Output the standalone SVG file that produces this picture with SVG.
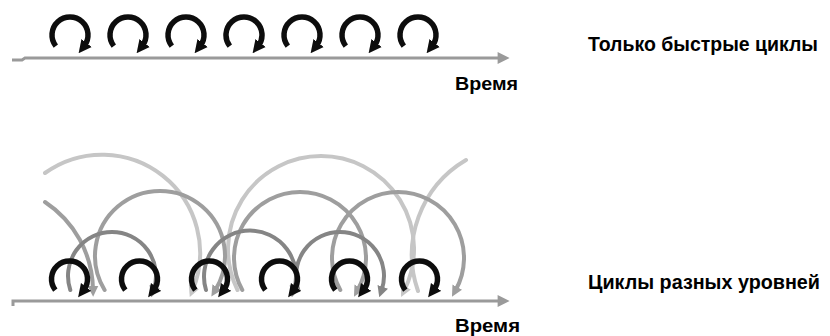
<svg xmlns="http://www.w3.org/2000/svg" width="830" height="336" viewBox="0 0 830 336">
<style>
  .fast { fill: none; stroke: #0d0d0d; stroke-width: 5.5; marker-end: url(#ah-black); }
  .lvl1 { fill: none; stroke: #c6c6c6; stroke-width: 4; stroke-linecap: round; }
  .lvl2 { fill: none; stroke: #9e9e9e; stroke-width: 4; stroke-linecap: round; }
  .lvl3 { fill: none; stroke: #858585; stroke-width: 4; stroke-linecap: round; }
  .axis { fill: none; stroke: #9a9a9a; stroke-width: 3; marker-end: url(#ah-axis); }
  .lbl { font-family: "Liberation Sans", Arial, sans-serif; font-weight: bold; fill: #000; }
</style>
<defs>
  <marker id="ah-black" viewBox="0 0 10 10" refX="3" refY="5" markerWidth="13" markerHeight="14" markerUnits="userSpaceOnUse" orient="auto">
    <path d="M0,0 L10,5 L0,10 z" fill="#0d0d0d"/>
  </marker>
  <marker id="ah-l1" viewBox="0 0 10 10" refX="3" refY="5" markerWidth="11" markerHeight="12" markerUnits="userSpaceOnUse" orient="auto">
    <path d="M0,0 L10,5 L0,10 z" fill="#c6c6c6"/>
  </marker>
  <marker id="ah-l2" viewBox="0 0 10 10" refX="3" refY="5" markerWidth="11" markerHeight="12" markerUnits="userSpaceOnUse" orient="auto">
    <path d="M0,0 L10,5 L0,10 z" fill="#9e9e9e"/>
  </marker>
  <marker id="ah-l3" viewBox="0 0 10 10" refX="3" refY="5" markerWidth="11" markerHeight="12" markerUnits="userSpaceOnUse" orient="auto">
    <path d="M0,0 L10,5 L0,10 z" fill="#858585"/>
  </marker>
  <marker id="ah-axis" viewBox="0 0 10 10" refX="2" refY="5" markerWidth="14" markerHeight="12" markerUnits="userSpaceOnUse" orient="auto">
    <path d="M0,0 L10,5 L0,10 z" fill="#9a9a9a"/>
  </marker>
</defs>

<g id="connectors">
  <!-- top time axis -->
  <path class="axis" d="M12,60 L22,60 L25,58 L500,58"/>
  <!-- bottom time axis -->
  <path class="axis" d="M13,306 L13,301 L500,301"/>

  <!-- level 1 (slowest, lightest) -->
  <path class="lvl1" d="M45,173 A98,98 0 0 1 192.7,290" marker-end="url(#ah-l1)"/>
  <path class="lvl1" d="M237.5,290 A93,93 0 1 1 404.5,290" marker-end="url(#ah-l1)"/>
  <path class="lvl1" d="M418,291 A110,110 0 0 1 466,160"/>

  <!-- level 2 (medium) -->
  <path class="lvl2" d="M45,202 A107,107 0 0 1 93,289" marker-end="url(#ah-l2)"/>
  <path class="lvl2" d="M104.6,290 A65,65 0 1 1 215.4,290" marker-end="url(#ah-l2)"/>
  <path class="lvl2" d="M242.3,290 A66,66 0 1 1 357.7,290" marker-end="url(#ah-l2)"/>
  <path class="lvl2" d="M340.3,290 A66,66 0 1 1 455.7,290" marker-end="url(#ah-l2)"/>

  <!-- level 3 (faster, darker grey) -->
  <path class="lvl3" d="M70.3,290 A44,44 0 1 1 153.7,290" marker-end="url(#ah-l3)"/>
  <path class="lvl3" d="M206,290 A46,46 0 1 1 294,290" marker-end="url(#ah-l3)"/>
  <path class="lvl3" d="M298.3,290 A44,44 0 1 1 381.7,290" marker-end="url(#ah-l3)"/>
</g>

<g id="top-fast-cycles">
  <path class="fast" d="M55.8,46.1 A18,18 0 1 1 84.2,46.1"/>
  <path class="fast" d="M113.8,46.1 A18,18 0 1 1 142.2,46.1"/>
  <path class="fast" d="M171.8,46.1 A18,18 0 1 1 200.2,46.1"/>
  <path class="fast" d="M229.8,46.1 A18,18 0 1 1 258.2,46.1"/>
  <path class="fast" d="M287.8,46.1 A18,18 0 1 1 316.2,46.1"/>
  <path class="fast" d="M345.8,46.1 A18,18 0 1 1 374.2,46.1"/>
  <path class="fast" d="M403.8,46.1 A18,18 0 1 1 432.2,46.1"/>
</g>

<g id="bottom-fast-cycles">
  <path class="fast" d="M55.3,290.1 A18,18 0 1 1 83.7,290.1"/>
  <path class="fast" d="M125.3,290.1 A18,18 0 1 1 153.7,290.1"/>
  <path class="fast" d="M195.3,290.1 A18,18 0 1 1 223.7,290.1"/>
  <path class="fast" d="M265.3,290.1 A18,18 0 1 1 293.7,290.1"/>
  <path class="fast" d="M335.3,290.1 A18,18 0 1 1 363.7,290.1"/>
  <path class="fast" d="M405.3,290.1 A18,18 0 1 1 433.7,290.1"/>
</g>

<g id="labels">
  <text id="label-fast" class="lbl" x="588" y="51" font-size="20" textLength="230" lengthAdjust="spacingAndGlyphs">Только быстрые циклы</text>
  <text id="label-time-top" class="lbl" x="455" y="90" font-size="18" textLength="63" lengthAdjust="spacingAndGlyphs">Время</text>
  <text id="label-levels" class="lbl" x="588" y="289" font-size="20" textLength="232" lengthAdjust="spacingAndGlyphs">Циклы разных уровней</text>
  <text id="label-time-bottom" class="lbl" x="455" y="332" font-size="18" textLength="65" lengthAdjust="spacingAndGlyphs">Время</text>
</g>
</svg>
